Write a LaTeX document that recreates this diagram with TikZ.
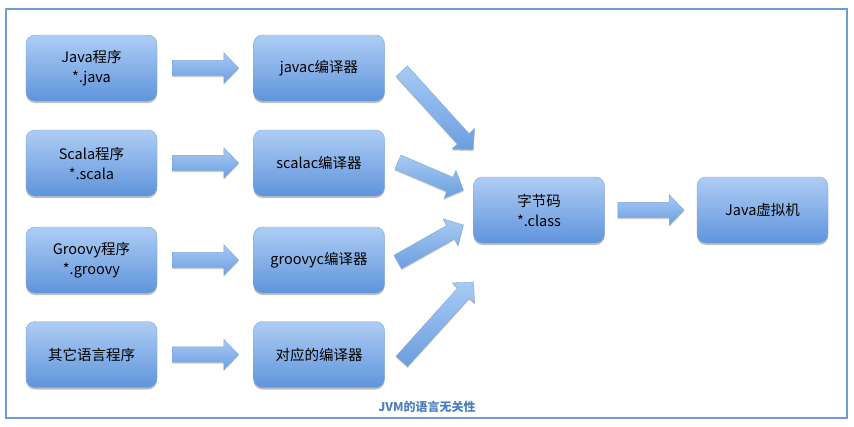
\documentclass[tikz,border=0pt]{standalone}
\usepackage{fontspec}
\setmainfont{Noto Sans CJK SC}
\usetikzlibrary{calc,shapes.arrows,shadows}
\definecolor{BoxTop}{HTML}{AECDF4}
\definecolor{BoxBottom}{HTML}{5F94DC}
\definecolor{BoxEdge}{HTML}{7EA7DA}
\definecolor{ArrowTop}{HTML}{A8CAF3}
\definecolor{ArrowBottom}{HTML}{6B9EE0}
\definecolor{FrameBlue}{HTML}{6E9BD1}
\definecolor{CapBlue}{HTML}{4F7FC0}
\newcommand{\fatarrow}[2]{%
  \path let \p1=(#1), \p2=(#2), \n1={veclen(\x2-\x1,\y2-\y1)} in
    (\p1) -- (\p2) node[pos=0,sloped,anchor=tail,bigarrow,minimum height=\n1] {};}

\begin{document}
\begin{tikzpicture}[x=1pt,y=-1pt,
 langbox/.style={draw=BoxEdge,top color=BoxTop,bottom color=BoxBottom,rounded corners=9pt,
              minimum width=131pt,minimum height=66pt,align=center,
              font=\fontsize{14.5}{20}\selectfont,
              drop shadow={shadow xshift=0pt,shadow yshift=-2pt,opacity=.25,fill=black}},
 bigarrow/.style={single arrow,draw=BoxEdge,top color=ArrowTop,bottom color=ArrowBottom,
              inner xsep=0pt,inner ysep=7.5pt,single arrow head extend=7.5pt,
              single arrow tip angle=92,
              drop shadow={shadow xshift=0pt,shadow yshift=-1.5pt,opacity=.2,fill=black}},
 frame/.style={draw=FrameBlue,line width=1.5pt}]
\useasboundingbox (0,0) rectangle (854,426);
\draw[frame] (6,9) rectangle (847,418);
% sources
\node[langbox] (java) at (91.5,68) {Java程序\\*.java};
\node[langbox] (scala) at (91.5,163) {Scala程序\\*.scala};
\node[langbox] (groovy) at (91.5,260) {Groovy程序\\*.groovy};
\node[langbox] (other) at (91.5,354.5) {其它语言程序};
% compilers
\node[langbox] (javac) at (319,68) {javac编译器};
\node[langbox] (scalac) at (319,163) {scalac编译器};
\node[langbox] (groovyc) at (319,260) {groovyc编译器};
\node[langbox] (otherc) at (319,354.5) {对应的编译器};
\node[langbox] (byte) at (539,210) {字节码\\*.class};
\node[langbox] (jvm) at (762.5,210) {Java虚拟机};
\fatarrow{$(java.east)+(15,0)$}{$(javac.west)+(-15,0)$}
\fatarrow{$(scala.east)+(15,0)$}{$(scalac.west)+(-15,0)$}
\fatarrow{$(groovy.east)+(15,0)$}{$(groovyc.west)+(-15,0)$}
\fatarrow{$(other.east)+(15,0)$}{$(otherc.west)+(-15,0)$}
\fatarrow{$(javac.east)+(17,3)$}{$(byte.north west)+(0,-27)$}
\fatarrow{$(scalac.east)+(13,-1)$}{$(byte.west)+(-10,-20)$}
\fatarrow{$(groovyc.east)+(13,2)$}{$(byte.west)+(-10,15)$}
\fatarrow{$(otherc.east)+(17,7)$}{$(byte.south west)+(0,39)$}
\fatarrow{$(byte.east)+(13,0)$}{$(jvm.west)+(-13,0)$}
\node[text=CapBlue,font=\fontsize{12}{14}\selectfont\bfseries] (cap) at (427,407) {JVM的语言无关性};
\end{tikzpicture}
\end{document}
